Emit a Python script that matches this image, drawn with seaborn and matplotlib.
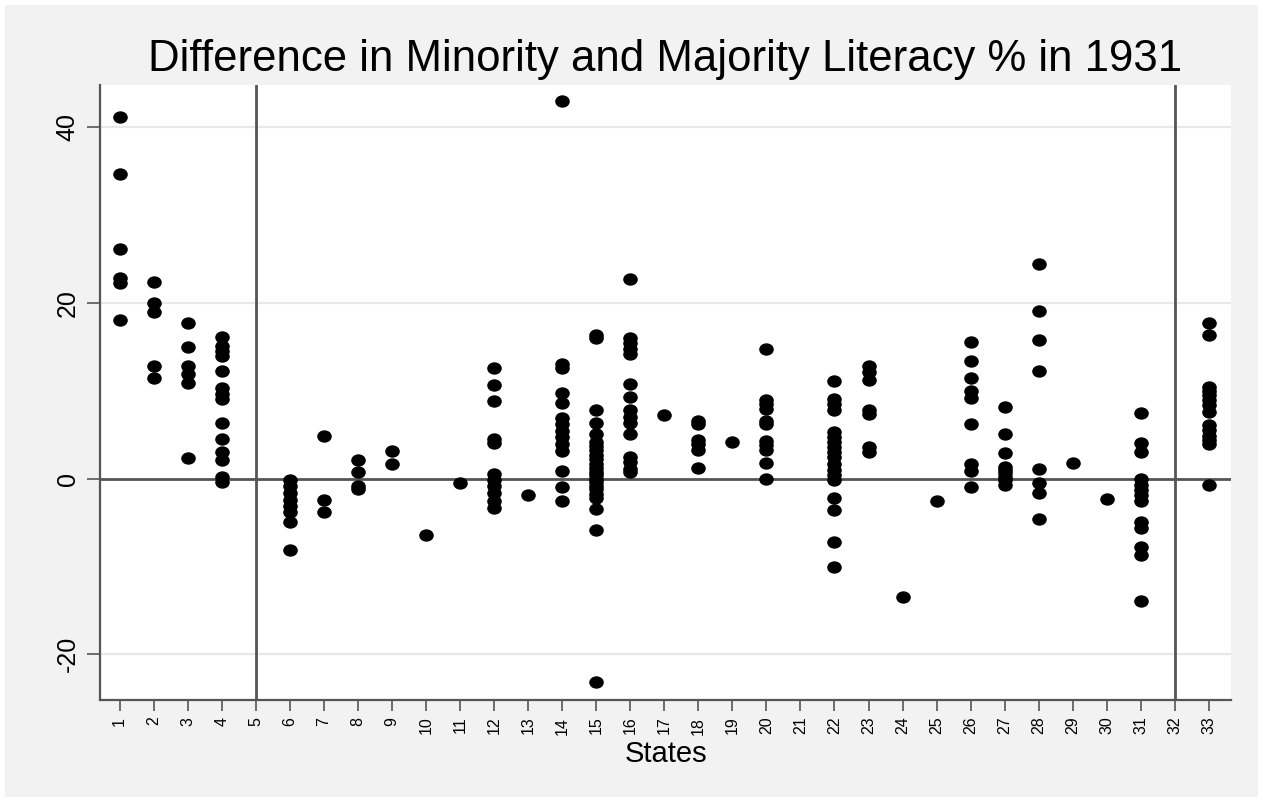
import matplotlib
matplotlib.use('Agg')
import matplotlib.pyplot as plt
import seaborn as sns
import pandas as pd
from matplotlib.patches import Rectangle
from matplotlib.path import Path

# =============================================================================
# Data: one row per district, grouped by state
# =============================================================================

state = ([1] * 6 + [2] * 5 + [3] * 6 + [4] * 14 + [6] * 8 + [7] * 3 + [8] * 4
         + [9] * 2 + [10] + [11] + [12] * 11 + [13] + [14] * 14 + [15] * 23
         + [16] * 15 + [17] + [18] * 6 + [19] + [20] * 11 + [22] * 18
         + [23] * 7 + [24] + [25] + [26] * 9 + [27] * 9 + [28] * 8 + [29]
         + [30] + [31] * 13 + [33] * 14)

gap = [
    41.2, 34.7, 26.1, 22.8, 22.3, 18.1,                          # 1
    22.4, 20.0, 19.0, 12.8, 11.4,                                # 2
    17.7, 15.0, 12.8, 11.9, 10.9, 2.3,                           # 3
    16.1, 15.1, 14.5, 13.9, 12.3, 10.3, 9.6, 9.1, 6.3, 4.5, 3.0,
    2.1, 0.2, -0.4,                                              # 4
    -0.2, -0.8, -1.6, -2.4, -3.1, -3.8, -4.9, -8.1,              # 6
    4.9, -2.4, -3.8,                                             # 7
    2.1, 0.7, -0.8, -1.2,                                        # 8
    3.1, 1.7,                                                    # 9
    -6.4,                                                        # 10
    -0.5,                                                        # 11
    12.6, 10.6, 8.8, 4.5, 4.0, 0.5, -0.2, -0.8, -1.6, -2.5, -3.3,  # 12
    -1.9,                                                        # 13
    43.0, 13.0, 12.6, 9.75, 8.55, 6.9, 6.2, 5.45, 4.7, 3.9, 3.15,
    0.9, -1.0, -2.5,                                             # 14
    16.3, 16.0, 7.8, 6.3, 5.1, 4.2, 3.7, 3.2, 2.7, 2.2, 1.7, 1.2,
    0.8, 0.4, 0.0, -0.4, -0.8, -1.2, -1.7, -2.2, -3.5, -5.8, -23.1,  # 15
    22.7, 16.0, 15.4, 14.7, 14.2, 10.8, 9.3, 7.8, 7.0, 6.3, 5.1,
    2.5, 1.9, 1.1, 0.7,                                          # 16
    7.2,                                                         # 17
    6.6, 6.2, 4.4, 3.9, 3.2, 1.2,                                # 18
    4.15,                                                        # 19
    14.8, 9.0, 8.5, 7.9, 6.5, 6.2, 4.3, 3.8, 3.2, 1.8, -0.1,     # 20
    11.1, 9.1, 8.5, 7.8, 5.3, 4.7, 4.2, 3.6, 3.0, 2.45, 1.7, 0.95,
    0.4, -0.2, -2.2, -3.6, -7.2, -10.1,                          # 22
    12.8, 12.1, 11.2, 7.8, 7.4, 3.6, 3.0,                        # 23
    -13.5,                                                       # 24
    -2.5,                                                        # 25
    15.6, 13.4, 11.4, 10.0, 9.2, 6.25, 1.7, 0.9, -0.9,           # 26
    8.1, 5.1, 2.9, 1.3, 0.95, 0.6, 0.2, -0.2, -0.75,             # 27
    24.4, 19.1, 15.8, 12.2, 1.05, -0.45, -1.6, -4.65,            # 28
    1.8,                                                         # 29
    -2.3,                                                        # 30
    7.45, 4.1, 3.0, -0.1, -0.75, -1.3, -1.9, -2.5, -4.9, -5.6, -7.8,
    -8.7, -13.9,                                                 # 31
    17.7, 16.3, 10.4, 10.0, 9.5, 9.0, 8.4, 7.6, 6.05, 5.5, 4.9, 4.4,
    3.9, -0.75,                                                  # 33
]

state_ticks = list(range(1, 34))
y_ticks = [-20, 0, 20, 40]
group_breaks = [5, 32]

df = pd.DataFrame({'state': state, 'gap': gap})

# =============================================================================
# Plot
# =============================================================================

sns.set_style('white')
plt.rcParams['font.family'] = ['Liberation Sans', 'DejaVu Sans']
plt.rcParams['axes.unicode_minus'] = False
plt.rcParams['text.color'] = 'black'
plt.rcParams['xtick.color'] = '#555555'
plt.rcParams['ytick.color'] = '#555555'
plt.rcParams['xtick.labelcolor'] = 'black'
plt.rcParams['ytick.labelcolor'] = 'black'
plt.rcParams['axes.labelcolor'] = 'black'

# slightly flattened dot, like the Stata export
circ = Path.unit_circle()
dot = Path(circ.vertices * [1.0, 0.85], circ.codes)

fig = plt.figure(figsize=(12.63, 8.02), dpi=100, facecolor='white')
# grey graph region with a thin white margin
fig.patches.append(Rectangle((5 / 1263, 5 / 802), 1 - 10 / 1263, 1 - 10 / 802,
                             transform=fig.transFigure, facecolor='#f2f2f2',
                             edgecolor='none', zorder=-10))

ax = fig.add_axes([100 / 1263, 102 / 802, 1131 / 1263, 615 / 802])
ax.set_facecolor('white')

for yv in [-20, 20, 40]:
    ax.axhline(yv, color='#e8e8e8', lw=1.6, zorder=0)
ax.axhline(0, color='#555555', lw=2, zorder=1)
for xv in group_breaks:
    ax.axvline(xv, color='#555555', lw=2, zorder=1)

sns.scatterplot(data=df, x='state', y='gap', ax=ax, color='black', s=110,
                marker=dot, edgecolor='black', linewidth=0, zorder=3,
                legend=False)

ax.set_xlim(0.42, 33.65)
ax.set_ylim(-25.2, 44.8)

ax.set_xticks(state_ticks)
ax.set_xticklabels([str(s) for s in state_ticks], rotation=90, fontsize=11.5)
ax.set_yticks(y_ticks)
ax.set_yticklabels([str(v) for v in y_ticks], rotation=90, fontsize=18,
                   va='center')

ax.tick_params(axis='x', bottom=True, direction='out', length=8, width=1.2,
               pad=4)
ax.tick_params(axis='y', left=True, direction='out', length=9.5, width=1.2,
               pad=5)

for side in ['top', 'right']:
    ax.spines[side].set_visible(False)
for side in ['left', 'bottom']:
    ax.spines[side].set_color('#555555')
    ax.spines[side].set_linewidth(1.6)

ax.set_xlabel('States', fontsize=21, labelpad=4)
ax.set_ylabel('')
ax.set_title('Difference in Minority and Majority Literacy % in 1931',
             fontsize=31.5, pad=10)

plt.savefig('out.png', dpi=100, facecolor=fig.get_facecolor())
